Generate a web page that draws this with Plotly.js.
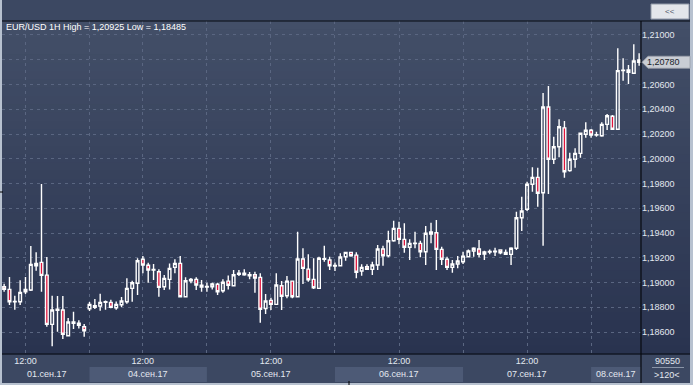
<!DOCTYPE html>
<html>
<head>
<meta charset="utf-8">
<script src="https://cdn.plot.ly/plotly-3.0.1.min.js"></script>
<style>
html,body{margin:0;padding:0;background:#3c4862;overflow:hidden;}
#chart{width:693px;height:385px;}
</style>
</head>
<body>
<div id="chart"></div>
<script>
// ---- data (EUR/USD, 1H candles) ----
const symbol = 'EUR/USD 1H';
const openP = [1.18966,1.18945,1.18845,1.18845,1.18926,1.18940,1.19136,1.19163,1.19060,1.18662,1.18776,1.18778,1.18570,1.18671,1.18671,1.18643,
1.18789,1.18813,1.18810,1.18840,1.18840,1.18797,1.18821,1.18845,1.18953,1.18994,1.19188,1.19140,1.19101,1.19087,1.18966,1.19026,1.19123,1.19155,1.18885,1.19015,1.19026,1.18978,
1.18964,1.18966,1.18986,1.18934,1.19012,1.18974,1.19066,1.19063,1.19055,1.19063,1.19042,1.18790,1.18856,1.18824,1.18974,1.18894,1.19012,1.18885,1.19190,1.19109,1.19026,1.18953,1.19188,1.19182,
1.19134,1.19136,1.19209,1.19244,1.19222,1.19093,1.19128,1.19107,1.19142,1.19271,1.19217,1.19338,1.19438,1.19349,1.19285,1.19315,1.19317,1.19249,1.19392,1.19403,1.19268,1.19188,1.19123,1.19150,
1.19168,1.19209,1.19255,1.19271,1.19230,1.19247,1.19249,1.19263,1.19244,1.19228,1.19277,1.19524,1.19592,1.19794,1.19850,1.19726,1.20418,1.19996,1.20097,1.20250,1.19904,1.19996,1.20044,1.20198,
1.20230,1.20192,1.20186,1.20278,1.20343,1.20238,1.20712,1.20717,1.20691,1.20798];
const highP = [1.18990,1.19045,1.18894,1.19018,1.19045,1.19295,1.19244,1.19796,1.19206,1.18894,1.18891,1.18891,1.18713,1.18764,1.18695,1.18665,
1.18843,1.18867,1.18910,1.18856,1.18861,1.18848,1.18883,1.19034,1.19015,1.19196,1.19214,1.19160,1.19150,1.19107,1.19061,1.19155,1.19188,1.19214,1.19042,1.19037,1.19042,1.19020,
1.18999,1.18999,1.18999,1.19026,1.19058,1.19101,1.19101,1.19107,1.19085,1.19087,1.19075,1.18907,1.18877,1.19075,1.19012,1.19053,1.19015,1.19411,1.19277,1.19228,1.19196,1.19209,1.19298,1.19209,
1.19163,1.19236,1.19249,1.19249,1.19244,1.19147,1.19147,1.19168,1.19303,1.19298,1.19419,1.19500,1.19491,1.19479,1.19349,1.19411,1.19338,1.19457,1.19483,1.19505,1.19289,1.19209,1.19182,1.19214,
1.19249,1.19268,1.19285,1.19344,1.19257,1.19268,1.19281,1.19268,1.19268,1.19285,1.19572,1.19693,1.19815,1.19931,1.19928,1.20531,1.20588,1.20178,1.20319,1.20305,1.20049,1.20085,1.20210,1.20295,
1.20240,1.20219,1.20295,1.20362,1.20354,1.20893,1.20812,1.20758,1.20925,1.20852];
const lowP = [1.18925,1.18818,1.18780,1.18818,1.18907,1.18932,1.19096,1.18926,1.18643,1.18485,1.18603,1.18544,1.18570,1.18624,1.18630,1.18562,
1.18770,1.18786,1.18772,1.18780,1.18792,1.18780,1.18802,1.18829,1.18845,1.18899,1.19075,1.18999,1.19020,1.18885,1.18940,1.18945,1.19075,1.18881,1.18881,1.18994,1.18940,1.18926,
1.18926,1.18945,1.18899,1.18918,1.18945,1.18972,1.19053,1.19055,1.19026,1.18918,1.18675,1.18746,1.18778,1.18818,1.18778,1.18873,1.18873,1.18880,1.18988,1.19007,1.18948,1.18948,1.19168,1.19101,
1.19093,1.19134,1.19176,1.19209,1.19034,1.19055,1.19101,1.19061,1.19101,1.19136,1.19204,1.19330,1.19309,1.19241,1.19182,1.19277,1.19204,1.19142,1.19317,1.19101,1.19142,1.19101,1.19079,1.19115,
1.19150,1.19209,1.19209,1.19204,1.19182,1.19228,1.19214,1.19228,1.19222,1.19142,1.19263,1.19416,1.19578,1.19734,1.19613,1.19298,1.19715,1.19958,1.20012,1.19847,1.19895,1.19928,1.20009,1.20170,
1.20170,1.20178,1.20178,1.20232,1.20238,1.20236,1.20631,1.20604,1.20689,1.20752];
const closeP = [1.18945,1.18845,1.18848,1.18921,1.18945,1.19147,1.19155,1.19058,1.18662,1.18778,1.18784,1.18582,1.18681,1.18681,1.18654,1.18611,
1.18824,1.18800,1.18840,1.18845,1.18800,1.18824,1.18851,1.18953,1.18999,1.19176,1.19142,1.19101,1.19105,1.18961,1.19034,1.19115,1.19155,1.18885,1.19015,1.19026,1.18980,1.18964,
1.18969,1.18988,1.18926,1.19002,1.18978,1.19063,1.19075,1.19075,1.19063,1.19037,1.18784,1.18851,1.18824,1.18980,1.18889,1.19012,1.18885,1.19190,1.19115,1.19023,1.18958,1.19196,1.19192,1.19136,
1.19138,1.19206,1.19244,1.19217,1.19083,1.19123,1.19107,1.19142,1.19271,1.19217,1.19338,1.19438,1.19349,1.19285,1.19317,1.19319,1.19249,1.19398,1.19408,1.19268,1.19188,1.19123,1.19150,1.19174,
1.19214,1.19255,1.19277,1.19228,1.19247,1.19251,1.19253,1.19241,1.19228,1.19277,1.19524,1.19578,1.19794,1.19850,1.19721,1.20418,1.19996,1.20097,1.20259,1.19895,1.19996,1.20044,1.20206,1.20230,
1.20192,1.20195,1.20278,1.20348,1.20238,1.20712,1.20715,1.20699,1.20790,1.20780];
const candleIdx = openP.map((_, i) => i);

// time axis: 12:00 ticks and day starts (00:00), by candle index
const noonIdx = [4, 26, 50, 74, 98];
const noonLabel = '12:00';
const dayStartIdx = [0, 16, 38, 62, 86, 110];
const dayLabels = ['01.сен.17', '04.сен.17', '05.сен.17', '06.сен.17', '07.сен.17', '08.сен.17'];
const dayShaded = [false, true, false, true, false, true];

// price axis
const priceTicks = [1.186, 1.188, 1.190, 1.192, 1.194, 1.196, 1.198, 1.200, 1.202, 1.204, 1.206, 1.208, 1.210];
const priceLabels = ['1,18600','1,18800','1,19000','1,19200','1,19400','1,19600','1,19800','1,20000','1,20200','1,20400','1,20600','1,20800','1,21000'];
const volumeText = '90550';
const countText = '>120<';

// ---- layout helpers (pixel -> paper) ----
const PL = 2, PR = 641, PT = 21, PB = 354;
const xp = px => (px - PL) / (PR - PL);
const yp = py => (PB - py) / (PB - PT);
const fmt = v => v.toFixed(5).replace('.', ',');

const xRange = [-0.4, 119.35];
const yRange = [1.18423, 1.21113];
const lastClose = closeP[closeP.length - 1];
// the current-price marker covers the tick label next to it
const shownPriceLabels = priceLabels.map((t, i) => Math.abs(priceTicks[i] - lastClose) < 0.0007 ? '' : t);

const shapes = [];
// gradient background of chart + price scale
const gTop = [67, 79, 104], gBot = [41, 51, 79];
const NB = 40;
for (let k = 0; k < NB; k++) {
  const t = (k + 0.5) / NB;
  const c = gTop.map((v, j) => Math.round(v + (gBot[j] - v) * t));
  const y0 = PT + (PB - PT) * k / NB, y1 = PT + (PB - PT) * (k + 1) / NB;
  shapes.push({type: 'rect', xref: 'paper', yref: 'paper', x0: xp(2), x1: xp(690), y0: yp(y1 + 0.5), y1: yp(y0),
    fillcolor: `rgb(${c[0]},${c[1]},${c[2]})`, line: {width: 0}, layer: 'below'});
}
// shaded day boxes in time axis
dayStartIdx.forEach((s, i) => {
  if (!dayShaded[i]) return;
  const e = i + 1 < dayStartIdx.length ? dayStartIdx[i + 1] : xRange[1];
  shapes.push({type: 'rect', xref: 'x', yref: 'paper', x0: s, x1: e, y0: yp(382), y1: yp(367),
    fillcolor: '#4d5a76', line: {width: 0}, layer: 'below'});
});
// frame lines
const frame = '#070a10';
shapes.push({type: 'line', xref: 'paper', yref: 'paper', x0: xp(2), x1: xp(690), y0: yp(21), y1: yp(21), line: {color: frame, width: 1.2}});
shapes.push({type: 'line', xref: 'paper', yref: 'paper', x0: xp(2), x1: xp(690), y0: yp(354), y1: yp(354), line: {color: frame, width: 1.2}});
shapes.push({type: 'line', xref: 'paper', yref: 'paper', x0: xp(641), x1: xp(641), y0: yp(21), y1: yp(383), line: {color: frame, width: 1.2}});
// right bottom separator
shapes.push({type: 'line', xref: 'paper', yref: 'paper', x0: xp(652), x1: xp(684), y0: yp(367.5), y1: yp(367.5), line: {color: '#8a95a8', width: 1}});
// window borders
const border = '#b7c1cf';
shapes.push({type: 'rect', xref: 'paper', yref: 'paper', x0: xp(0), x1: xp(2), y0: yp(385), y1: yp(0), fillcolor: border, line: {width: 0}});
shapes.push({type: 'rect', xref: 'paper', yref: 'paper', x0: xp(0), x1: xp(693), y0: yp(385), y1: yp(383), fillcolor: border, line: {width: 0}});
shapes.push({type: 'rect', xref: 'paper', yref: 'paper', x0: xp(690), x1: xp(693), y0: yp(385), y1: yp(0), fillcolor: border, line: {width: 0}});
// small marks
shapes.push({type: 'line', xref: 'paper', yref: 'paper', x0: xp(349), x1: xp(349), y0: yp(385), y1: yp(381), line: {color: '#000', width: 1}});
shapes.push({type: 'line', xref: 'paper', yref: 'paper', x0: xp(0), x1: xp(3), y0: yp(192), y1: yp(192), line: {color: '#000', width: 1}});
// "<<" button
shapes.push({type: 'rect', xref: 'paper', yref: 'paper', x0: xp(651), x1: xp(689), y0: yp(19), y1: yp(4),
  fillcolor: '#e3e6eb', line: {color: '#9099a8', width: 1}});
// current price marker
shapes.push({type: 'path', xref: 'paper', xsizemode: 'pixel', xanchor: 1, yref: 'y', ysizemode: 'pixel', yanchor: lastClose,
  path: 'M1,0 L7,6 L49,6 L49,-6 L7,-6 Z', fillcolor: '#c9cdd4', line: {color: '#9aa0aa', width: 0.8}});

const hi = Math.max(...highP), lo = Math.min(...lowP);
const txtFont = {family: 'Liberation Sans, Arial, sans-serif', size: 9, color: '#ffffff'};
const annotations = [
  {xref: 'paper', yref: 'paper', x: xp(4), y: yp(27), xanchor: 'left', yanchor: 'middle', showarrow: false,
   text: `${symbol} High = ${fmt(hi)} Low = ${fmt(lo)}`, font: txtFont},
  {xref: 'paper', yref: 'y', x: 1, xshift: 4, y: lastClose, xanchor: 'left', yanchor: 'middle', showarrow: false,
   text: fmt(lastClose), font: {family: txtFont.family, size: 9, color: '#1a1f2b'}},
  {xref: 'paper', yref: 'paper', x: xp(670), y: yp(11.5), xanchor: 'center', yanchor: 'middle', showarrow: false,
   text: '&lt;&lt;', font: {family: txtFont.family, size: 8, color: '#505868'}},
  {xref: 'paper', yref: 'paper', x: xp(667), y: yp(361), xanchor: 'center', yanchor: 'middle', showarrow: false,
   text: volumeText, font: {family: txtFont.family, size: 9, color: '#e3e8f0'}},
  {xref: 'paper', yref: 'paper', x: xp(667), y: yp(375), xanchor: 'center', yanchor: 'middle', showarrow: false,
   text: countText.replace('>', '&gt;').replace('<', '&lt;'), font: {family: txtFont.family, size: 9, color: '#e3e8f0'}}
];
dayStartIdx.forEach((s, i) => {
  const a = Math.max(s, xRange[0]);
  const e = i + 1 < dayStartIdx.length ? dayStartIdx[i + 1] : xRange[1];
  annotations.push({xref: 'x', yref: 'paper', x: (a + e) / 2, y: yp(374.5), xanchor: 'center', yanchor: 'middle', showarrow: false,
    text: dayLabels[i], font: {family: txtFont.family, size: 9, color: '#e3e8f0'}});
});

const gridVals = [...noonIdx, ...dayStartIdx.slice(1)];
const gridText = gridVals.map(v => noonIdx.includes(v) ? noonLabel : '');

const trace = {
  type: 'candlestick', x: candleIdx, open: openP, high: highP, low: lowP, close: closeP,
  increasing: {line: {color: '#ffffff', width: 1.4}, fillcolor: 'rgba(0,0,0,0)'},
  decreasing: {line: {color: '#ffffff', width: 1.4}, fillcolor: '#e0143c'},
  whiskerwidth: 0, hoverinfo: 'skip', showlegend: false
};

const layout = {
  width: 693, height: 385,
  margin: {l: PL, r: 693 - PR, t: PT, b: 385 - PB, pad: 0},
  paper_bgcolor: '#3c4862', plot_bgcolor: 'rgba(0,0,0,0)',
  boxgap: 0.28,
  showlegend: false,
  xaxis: {type: 'linear', range: xRange, rangeslider: {visible: false}, fixedrange: true,
    tickmode: 'array', tickvals: gridVals, ticktext: gridText, ticks: '', showline: false, zeroline: false,
    showgrid: true, gridcolor: '#5a6681', gridwidth: 1, griddash: '3px,4px',
    tickfont: {family: txtFont.family, size: 9, color: '#e3e8f0'}},
  yaxis: {side: 'right', range: yRange, fixedrange: true, tickmode: 'array', tickvals: priceTicks, ticktext: shownPriceLabels,
    ticks: '', showline: false, zeroline: false, showgrid: true, gridcolor: '#5a6681', gridwidth: 1, griddash: '3px,4px',
    tickfont: {family: txtFont.family, size: 9, color: '#e3e8f0'}},
  shapes: shapes,
  annotations: annotations
};

Plotly.newPlot('chart', [trace], layout, {staticPlot: true, displayModeBar: false});
</script>
</body>
</html>
